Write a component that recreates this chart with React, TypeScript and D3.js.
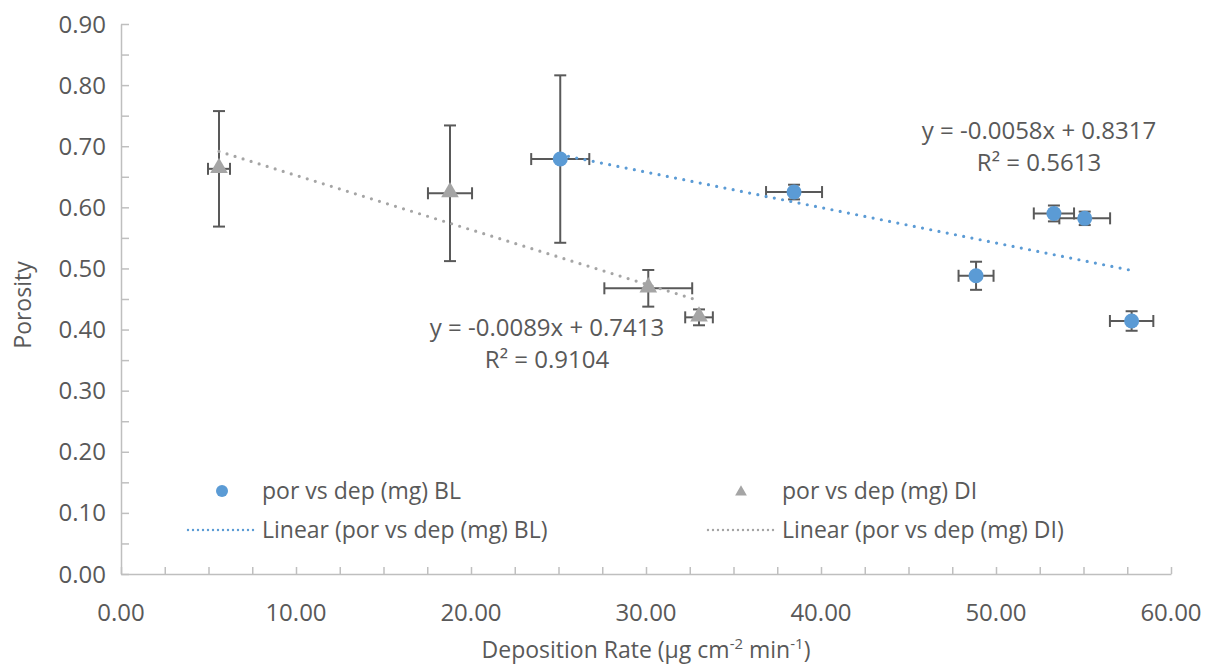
import * as d3 from "d3";
import { useEffect, useRef } from "react";

// BL series: deposition rate (x), porosity (y) and their error bars
const blRate = [25.1, 38.46, 48.86, 53.31, 55.07, 57.75];
const blPorosity = [0.679, 0.625, 0.488, 0.59, 0.582, 0.414];
const blRateErr = [1.66, 1.6, 1.0, 1.15, 1.45, 1.24];
const blPorosityErr = [0.137, 0.012, 0.023, 0.013, 0.011, 0.016];

// DI series
const diRate = [5.6, 18.8, 30.13, 33.03];
const diPorosity = [0.663, 0.623, 0.4675, 0.42];
const diRateErr = [0.63, 1.26, 2.51, 0.79];
const diPorosityErr = [0.0945, 0.111, 0.03, 0.013];

// linear fits: slope, intercept, R²
const blTrend = [-0.0058, 0.8317, 0.5613];
const diTrend = [-0.0089, 0.7413, 0.9104];

const xTicks = [0, 10, 20, 30, 40, 50, 60];
const yTicks = [0, 0.1, 0.2, 0.3, 0.4, 0.5, 0.6, 0.7, 0.8, 0.9];
const legendLabels = [
  "por vs dep (mg) BL",
  "por vs dep (mg) DI",
  "Linear (por vs dep (mg) BL)",
  "Linear (por vs dep (mg) DI)",
];

const BLUE = "#5B9BD5";
const GRAY = "#A5A5A5";
const ERR = "#595959";
const TEXT = "#595959";
const AXIS = "#BFBFBF";
const FONT = "'Open Sans', sans-serif";

type Pt = { x: number; y: number; ex: number; ey: number };

const toPoints = (xs: number[], ys: number[], exs: number[], eys: number[]): Pt[] =>
  xs.map((x, i) => ({ x, y: ys[i], ex: exs[i], ey: eys[i] }));

export default function App() {
  const ref = useRef<SVGSVGElement>(null);

  useEffect(() => {
    if (!ref.current) return;
    const svg = d3.select(ref.current);
    svg.selectAll("*").remove();

    const width = 1208;
    const height = 666;
    svg.attr("viewBox", `0 0 ${width} ${height}`);

    const x = d3.scaleLinear().domain([0, 60]).range([121, 1171]);
    const y = d3.scaleLinear().domain([0, 0.9]).range([574, 24]);

    const bl = toPoints(blRate, blPorosity, blRateErr, blPorosityErr);
    const di = toPoints(diRate, diPorosity, diRateErr, diPorosityErr);

    // minor ticks (inside)
    svg
      .append("g")
      .attr("transform", `translate(0,${y(0)})`)
      .call(d3.axisBottom(x).tickValues(d3.range(0, 60.01, 2.5)).tickSize(-7).tickSizeOuter(0).tickFormat(() => ""))
      .call((g) => g.selectAll("line").attr("stroke", AXIS).attr("stroke-width", 1.5))
      .call((g) => g.select(".domain").attr("stroke", AXIS).attr("stroke-width", 1.5));

    svg
      .append("g")
      .attr("transform", `translate(${x(0)},0)`)
      .call(d3.axisLeft(y).tickValues(d3.range(0, 0.9001, 0.05)).tickSize(-8).tickSizeOuter(0).tickFormat(() => ""))
      .call((g) => g.selectAll("line").attr("stroke", AXIS).attr("stroke-width", 1.5))
      .call((g) => g.select(".domain").attr("stroke", AXIS).attr("stroke-width", 1.5));

    // tick labels
    svg
      .append("g")
      .selectAll("text")
      .data(xTicks)
      .join("text")
      .attr("x", (d) => x(d))
      .attr("y", 621)
      .attr("text-anchor", "middle")
      .attr("font-family", FONT)
      .attr("font-size", 24)
      .attr("fill", TEXT)
      .text((d) => d.toFixed(2));

    svg
      .append("g")
      .selectAll("text")
      .data(yTicks)
      .join("text")
      .attr("x", 106)
      .attr("y", (d) => y(d) + 8.5)
      .attr("text-anchor", "end")
      .attr("font-family", FONT)
      .attr("font-size", 24)
      .attr("fill", TEXT)
      .text((d) => d.toFixed(2));

    // axis titles
    svg
      .append("text")
      .attr("transform", `translate(31,305) rotate(-90)`)
      .attr("text-anchor", "middle")
      .attr("font-family", FONT)
      .attr("font-size", 23)
      .attr("fill", TEXT)
      .text("Porosity");

    const xt = svg
      .append("text")
      .attr("x", (x(0) + x(60)) / 2)
      .attr("y", 658)
      .attr("text-anchor", "middle")
      .attr("font-family", FONT)
      .attr("font-size", 23)
      .attr("fill", TEXT);
    xt.append("tspan").text("Deposition Rate (μg cm");
    xt.append("tspan").attr("font-size", 15).attr("dy", -9).text("-2");
    xt.append("tspan").attr("dy", 9).text(" min");
    xt.append("tspan").attr("font-size", 15).attr("dy", -9).text("-1");
    xt.append("tspan").attr("dy", 9).text(")");

    // error bars
    const drawErr = (pts: Pt[]) => {
      const g = svg.append("g").attr("stroke", ERR).attr("stroke-width", 2);
      pts.forEach((p) => {
        const cx = x(p.x);
        const cy = y(p.y);
        const y0 = y(p.y - p.ey);
        const y1 = y(p.y + p.ey);
        const x0 = x(p.x - p.ex);
        const x1 = x(p.x + p.ex);
        g.append("line").attr("x1", cx).attr("x2", cx).attr("y1", y0).attr("y2", y1);
        g.append("line").attr("x1", cx - 6).attr("x2", cx + 6).attr("y1", y0).attr("y2", y0);
        g.append("line").attr("x1", cx - 6).attr("x2", cx + 6).attr("y1", y1).attr("y2", y1);
        g.append("line").attr("x1", x0).attr("x2", x1).attr("y1", cy).attr("y2", cy);
        g.append("line").attr("x1", x0).attr("x2", x0).attr("y1", cy - 6).attr("y2", cy + 6);
        g.append("line").attr("x1", x1).attr("x2", x1).attr("y1", cy - 6).attr("y2", cy + 6);
      });
    };
    drawErr(di);
    drawErr(bl);

    // markers
    const tri = d3.symbol().type(d3.symbolTriangle).size(135);
    svg
      .append("g")
      .selectAll("path")
      .data(di)
      .join("path")
      .attr("transform", (d) => `translate(${x(d.x)},${y(d.y) - 1})`)
      .attr("d", tri)
      .attr("fill", GRAY);

    svg
      .append("g")
      .selectAll("circle")
      .data(bl)
      .join("circle")
      .attr("cx", (d) => x(d.x))
      .attr("cy", (d) => y(d.y))
      .attr("r", 7.5)
      .attr("fill", BLUE);

    // trendlines
    const line = d3
      .line<number[]>()
      .x((d) => x(d[0]))
      .y((d) => y(d[1]));
    const drawTrend = (xs: number[], trend: number[], color: string) => {
      const [lo, hi] = d3.extent(xs) as [number, number];
      const pts = [lo, hi].map((v) => [v, trend[0] * v + trend[1]]);
      svg
        .append("path")
        .datum(pts)
        .attr("d", line)
        .attr("fill", "none")
        .attr("stroke", color)
        .attr("stroke-width", 3.2)
        .attr("stroke-linecap", "round")
        .attr("stroke-dasharray", "0 8.4");
    };
    drawTrend(diRate, diTrend, GRAY);
    drawTrend(blRate, blTrend, BLUE);

    // trendline equations
    const eq = (t: number[], cx: number, cy: number) => {
      const g = svg
        .append("g")
        .attr("font-family", FONT)
        .attr("font-size", 24)
        .attr("fill", TEXT)
        .attr("text-anchor", "middle");
      g.append("text")
        .attr("x", cx)
        .attr("y", cy)
        .text(`y = ${t[0].toFixed(4)}x + ${t[1].toFixed(4)}`);
      g.append("text")
        .attr("x", cx)
        .attr("y", cy + 32)
        .text(`R² = ${t[2].toFixed(4)}`);
    };
    eq(blTrend, 1039, 139);
    eq(diTrend, 547, 336);

    // legend
    const lg = svg
      .append("g")
      .attr("font-family", FONT)
      .attr("font-size", 23)
      .attr("fill", TEXT);
    lg.append("circle").attr("cx", 222).attr("cy", 491).attr("r", 6).attr("fill", BLUE);
    lg.append("path")
      .attr("transform", "translate(741,492)")
      .attr("d", d3.symbol().type(d3.symbolTriangle).size(60))
      .attr("fill", GRAY);
    lg.append("line")
      .attr("x1", 188).attr("x2", 257).attr("y1", 530).attr("y2", 530)
      .attr("stroke", BLUE).attr("stroke-width", 2.4)
      .attr("stroke-linecap", "round").attr("stroke-dasharray", "0 5");
    lg.append("line")
      .attr("x1", 708).attr("x2", 777).attr("y1", 530).attr("y2", 530)
      .attr("stroke", GRAY).attr("stroke-width", 2.4)
      .attr("stroke-linecap", "round").attr("stroke-dasharray", "0 5");
    const pos = [
      [262, 499],
      [782, 499],
      [262, 538],
      [782, 538],
    ];
    lg.selectAll("text")
      .data(legendLabels)
      .join("text")
      .attr("x", (_, i) => pos[i][0])
      .attr("y", (_, i) => pos[i][1])
      .text((d) => d);
  }, []);

  return (
    <svg
      ref={ref}
      width={1208}
      height={666}
      style={{ position: "absolute", left: 0, top: 0, display: "block", background: "#fff" }}
      role="img"
      aria-label="Porosity vs deposition rate"
    />
  );
}
